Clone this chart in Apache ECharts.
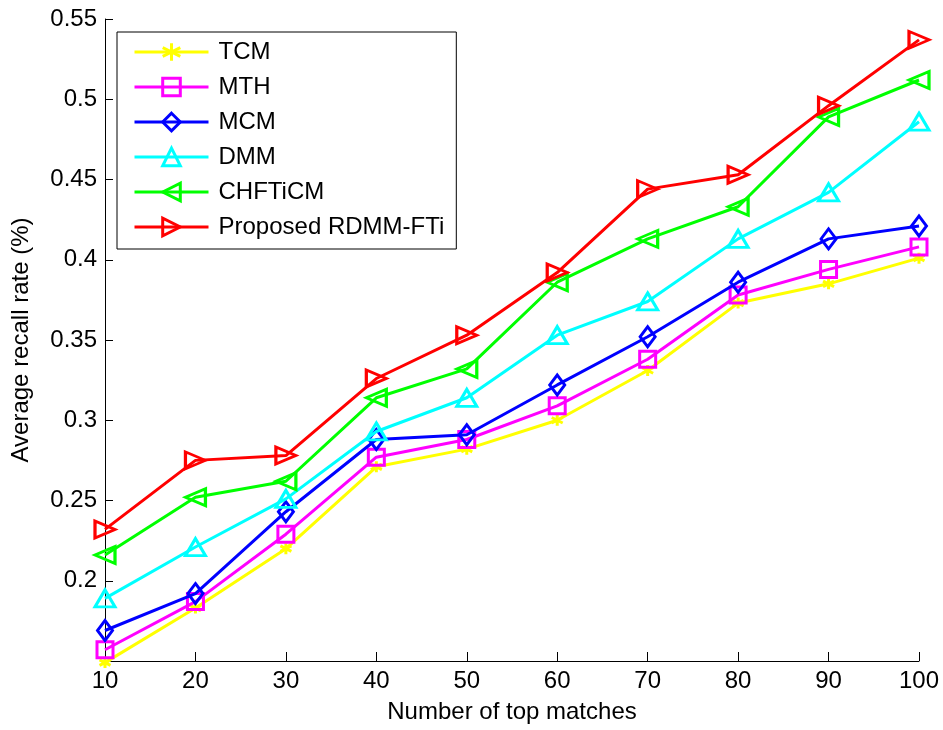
<!DOCTYPE html>
<html>
<head>
<meta charset="utf-8">
<script src="https://cdn.jsdelivr.net/npm/echarts@6/dist/echarts.min.js"></script>
<style>
html,body{margin:0;padding:0;background:#fff;}
#chart{width:943px;height:730px;}
</style>
</head>
<body>
<div id="chart"></div>
<script>
var xValues = [10, 20, 30, 40, 50, 60, 70, 80, 90, 100];
var seriesNames = ['TCM', 'MTH', 'MCM', 'DMM', 'CHFTiCM', 'Proposed RDMM-FTi'];
var tcm      = [0.149, 0.183, 0.220, 0.271, 0.282, 0.300, 0.331, 0.373, 0.385, 0.401];
var mth      = [0.157, 0.187, 0.229, 0.277, 0.288, 0.309, 0.338, 0.378, 0.394, 0.408];
var mcm      = [0.169, 0.192, 0.243, 0.288, 0.291, 0.322, 0.352, 0.386, 0.413, 0.421];
var dmm      = [0.189, 0.221, 0.251, 0.293, 0.314, 0.353, 0.374, 0.413, 0.442, 0.486];
var chftimc  = [0.216, 0.252, 0.262, 0.314, 0.332, 0.386, 0.413, 0.433, 0.489, 0.512];
var proposed = [0.232, 0.275, 0.278, 0.326, 0.353, 0.392, 0.444, 0.453, 0.496, 0.537];

var allValues = [tcm, mth, mcm, dmm, chftimc, proposed];
var colors = ['#ffff00', '#ff00ff', '#0000ff', '#00ffff', '#00ff00', '#ff0000'];
var asterisk = 'path://M0,-10L0,10M-8.66,-5L8.66,5M-8.66,5L8.66,-5';
var symbols = [asterisk, 'rect', 'diamond', 'triangle', 'triangle', 'triangle'];
var symbolSizes = [[11, 11], [16, 16], [15, 20], [20, 17], [17, 20], [17, 20]];
var symbolRotates = [0, 0, 0, 0, 90, -90];

var FONT = 'Liberation Sans, Arial, sans-serif';

function pairs(arr) {
  return xValues.map(function (x, i) { return [x, arr[i]]; });
}

var series = seriesNames.map(function (name, k) {
  var sz = symbolSizes[k];
  return {
    name: name,
    type: 'line',
    data: pairs(allValues[k]),
    clip: false,
    symbol: symbols[k],
    symbolSize: sz,
    symbolRotate: symbolRotates[k],
    showAllSymbol: true,
    lineStyle: { color: colors[k], width: 3 },
    itemStyle: { color: k === 0 ? colors[k] : 'rgba(255,255,255,0)', borderColor: colors[k], borderWidth: 3 },
    emphasis: { disabled: true },
    z: 2 + k
  };
});

var chart = echarts.init(document.getElementById('chart'), null, { renderer: 'canvas' });
chart.setOption({
  animation: false,
  backgroundColor: '#ffffff',
  textStyle: { fontFamily: FONT },
  grid: { left: 105, right: 24, top: 19, bottom: 69, containLabel: false },
  legend: {
    orient: 'vertical',
    left: 117,
    top: 32,
    padding: [8, 12, 10, 16],
    itemWidth: 74,
    itemHeight: 22,
    itemGap: 11,
    borderColor: '#000',
    borderWidth: 1,
    backgroundColor: '#fff',
    lineStyle: { width: 3 },
    itemStyle: { borderWidth: 3 },
    textStyle: { fontSize: 24, color: '#000', fontFamily: FONT, padding: [0, 0, 0, 5] },
    data: seriesNames
  },
  xAxis: {
    type: 'value',
    min: 10,
    max: 100,
    interval: 10,
    name: 'Number of top matches',
    nameLocation: 'middle',
    nameGap: 39,
    nameTextStyle: { fontSize: 24, color: '#000', fontFamily: FONT },
    axisLine: { lineStyle: { color: '#000', width: 1 } },
    axisTick: { inside: true, length: 9, lineStyle: { color: '#000' } },
    axisLabel: { fontSize: 24, color: '#000', margin: 8, fontFamily: FONT },
    splitLine: { show: false }
  },
  yAxis: {
    type: 'value',
    min: 0.15,
    max: 0.55,
    interval: 0.05,
    name: 'Average recall rate (%)',
    nameLocation: 'middle',
    nameGap: 72,
    nameTextStyle: { fontSize: 24, color: '#000', fontFamily: FONT },
    axisLine: { show: true, lineStyle: { color: '#000', width: 1 } },
    axisTick: { show: true, inside: true, length: 8, lineStyle: { color: '#000' } },
    axisLabel: {
      fontSize: 24, color: '#000', margin: 8, fontFamily: FONT,
      formatter: function (v) {
        var r = Math.round(v * 100) / 100;
        if (Math.abs(r - 0.15) < 1e-6) return '';
        return String(parseFloat(r.toFixed(2)));
      }
    },
    splitLine: { show: false }
  },
  series: series
});
</script>
</body>
</html>
